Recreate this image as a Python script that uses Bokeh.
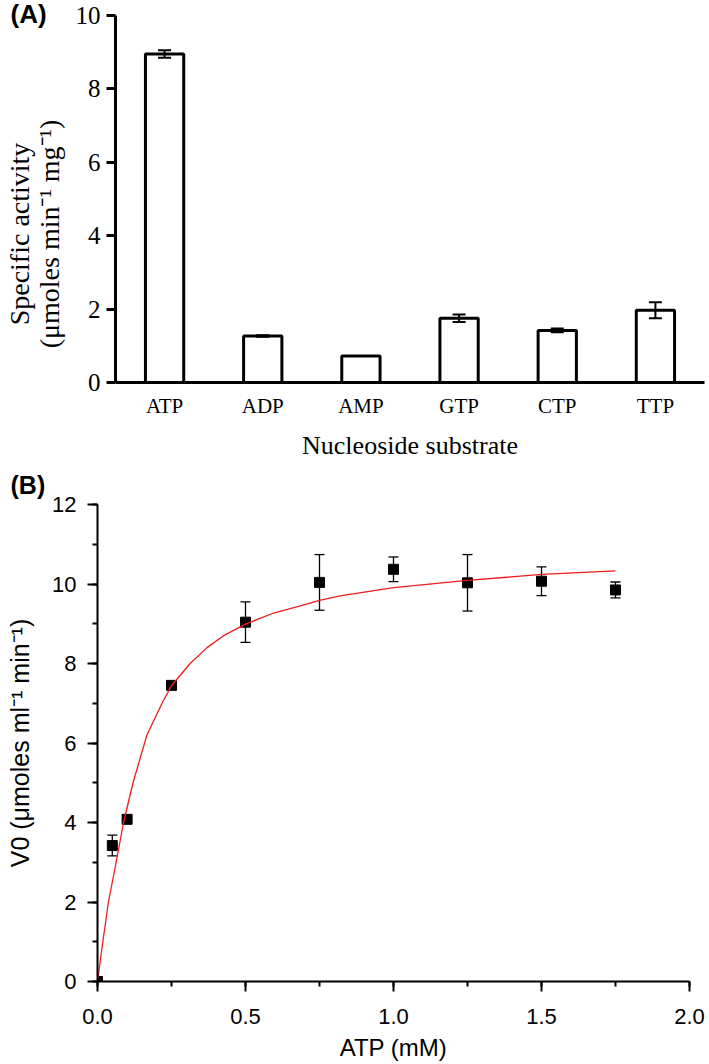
from bokeh.plotting import figure
from bokeh.models import (FactorRange, Range1d, Whisker, ColumnDataSource,
                          FixedTicker, SingleIntervalTicker, PrintfTickFormatter, TeeHead)
from bokeh.embed import file_html
from bokeh.resources import INLINE

# ---------------- data ----------------
substrates = ["ATP", "ADP", "AMP", "GTP", "CTP", "TTP"]
activity = [8.95, 1.27, 0.72, 1.75, 1.42, 1.97]
activity_err = [0.10, 0.02, 0.0, 0.10, 0.05, 0.22]

atp_conc = [0.0, 0.05, 0.1, 0.25, 0.5, 0.75, 1.0, 1.25, 1.5, 1.75]
v0 = [0.0, 3.42, 4.08, 7.45, 9.04, 10.04, 10.37, 10.03, 10.07, 9.85]
v0_err = [0.0, 0.26, 0.05, 0.05, 0.51, 0.70, 0.31, 0.71, 0.36, 0.20]

fit_x = [0.0, 0.018, 0.037, 0.063, 0.088, 0.12, 0.167, 0.218, 0.25, 0.313,
         0.37, 0.426, 0.5, 0.595, 0.685, 0.75, 0.82, 1.0, 1.25, 1.5, 1.75]
fit_y = [0.0, 1.0, 2.0, 3.0, 4.0, 5.0, 6.2, 7.0, 7.44, 8.0,
         8.40, 8.70, 8.99, 9.27, 9.45, 9.59, 9.70, 9.91, 10.09, 10.24, 10.33]

SERIF = "Liberation Serif"
SANS = "Liberation Sans"
PAD = "\u00a0" * 10  # shifts the centred y label downwards like the reference

# ---------------- panel A ----------------
pa = figure(width=709, height=462, title="(A)",
            x_range=FactorRange(*substrates, range_padding=0),
            y_range=Range1d(0, 10),
            output_backend="svg", toolbar_location=None,
            min_border_left=115, min_border_right=5,
            min_border_top=15, min_border_bottom=79)
pa.outline_line_color = None
pa.grid.visible = False
pa.title.align = "left"
pa.title.offset = -105
pa.title.standoff = -26
pa.title.text_font = SANS
pa.title.text_font_style = "bold"
pa.title.text_font_size = "26px"
pa.title.text_color = "black"

src_a = ColumnDataSource(dict(
    cat=substrates, val=activity,
    upper=[v + e for v, e in zip(activity, activity_err)],
    lower=[v - e for v, e in zip(activity, activity_err)]))

pa.vbar(x="cat", top="val", width=0.39, bottom=0, source=src_a,
        fill_color="white", line_color="black", line_width=3)
wa = Whisker(base="cat", upper="upper", lower="lower", source=src_a,
             line_color="black", line_width=2, level="overlay",
             upper_head=TeeHead(size=13, line_width=2, line_color="black"),
             lower_head=TeeHead(size=13, line_width=2, line_color="black"))
pa.add_layout(wa)

ax = pa.xaxis[0]
ax.axis_line_width = 3
ax.axis_line_color = "black"
ax.major_tick_out = 0
ax.major_tick_in = 0
ax.minor_tick_out = 0
ax.minor_tick_in = 0
ax.major_label_text_font = SERIF
ax.major_label_text_font_size = "21px"
ax.major_label_text_color = "black"
ax.major_label_standoff = 11
ax.axis_label = "Nucleoside substrate"
ax.axis_label_text_font = SERIF
ax.axis_label_text_font_size = "26px"
ax.axis_label_text_font_style = "normal"
ax.axis_label_text_color = "black"
ax.axis_label_standoff = 10

ay = pa.yaxis[0]
ay.ticker = FixedTicker(ticks=[0, 2, 4, 6, 8, 10])
ay.axis_line_width = 3
ay.axis_line_color = "black"
ay.major_tick_out = 9
ay.major_tick_in = 0
ay.major_tick_line_width = 3
ay.major_tick_line_color = "black"
ay.minor_tick_out = 0
ay.minor_tick_in = 0
ay.major_label_text_font = SERIF
ay.major_label_text_font_size = "25px"
ay.major_label_text_color = "black"
ay.major_label_standoff = 6
ay.axis_label = ("Specific activity" + PAD + "\n(\u03bcmoles min\u207b\u00b9 mg\u207b\u00b9)" + PAD)
ay.axis_label_text_font = SERIF
ay.axis_label_text_font_size = "28px"
ay.axis_label_text_font_style = "normal"
ay.axis_label_text_color = "black"
ay.axis_label_text_line_height = 0.95
ay.axis_label_standoff = 8

# ---------------- panel B ----------------
pb = figure(width=709, height=602, title="(B)",
            x_range=Range1d(0, 2), y_range=Range1d(0, 12),
            output_backend="svg", toolbar_location=None,
            min_border_left=97, min_border_right=20,
            min_border_top=41, min_border_bottom=83)
pb.outline_line_color = None
pb.grid.visible = False
pb.title.align = "left"
pb.title.offset = -87
pb.title.standoff = 12
pb.title.text_font = SANS
pb.title.text_font_style = "bold"
pb.title.text_font_size = "25px"
pb.title.text_color = "black"

src_b = ColumnDataSource(dict(
    x=atp_conc, y=v0,
    upper=[v + e for v, e in zip(v0, v0_err)],
    lower=[v - e for v, e in zip(v0, v0_err)]))

wb = Whisker(base="x", upper="upper", lower="lower", source=src_b,
             line_color="black", line_width=1.3,
             upper_head=TeeHead(size=10, line_width=1.3, line_color="black"),
             lower_head=TeeHead(size=10, line_width=1.3, line_color="black"))
pb.add_layout(wb)
pb.scatter(x="x", y="y", source=src_b, marker="square", size=10,
           fill_color="black", line_color="black")
pb.line(fit_x, fit_y, line_color="#ee1c1c", line_width=1.3)

for axis in (pb.xaxis[0], pb.yaxis[0]):
    axis.axis_line_width = 2
    axis.axis_line_color = "black"
    axis.major_tick_out = 10
    axis.major_tick_in = 0
    axis.minor_tick_out = 5
    axis.minor_tick_in = 0
    axis.major_tick_line_width = 2
    axis.minor_tick_line_width = 2
    axis.major_tick_line_color = "black"
    axis.minor_tick_line_color = "black"
    axis.major_label_text_font = SANS
    axis.major_label_text_font_size = "22px"
    axis.major_label_text_color = "black"
    axis.axis_label_text_font = SANS
    axis.axis_label_text_font_style = "normal"
    axis.axis_label_text_color = "black"

bx = pb.xaxis[0]
bx.ticker = SingleIntervalTicker(interval=0.5, num_minor_ticks=2)
bx.formatter = PrintfTickFormatter(format="%.1f")
bx.major_label_standoff = 17
bx.axis_label = "ATP (mM)"
bx.axis_label_text_font_size = "24px"
bx.axis_label_standoff = 7

by = pb.yaxis[0]
by.ticker = SingleIntervalTicker(interval=2, num_minor_ticks=2)
by.major_label_standoff = 11
by.axis_label = "V0 (\u03bcmoles ml\u207b\u00b9 min\u207b\u00b9)"
by.axis_label_text_font_size = "25px"
by.axis_label_standoff = 15

open("out.html", "w").write(file_html([pa, pb], INLINE))
